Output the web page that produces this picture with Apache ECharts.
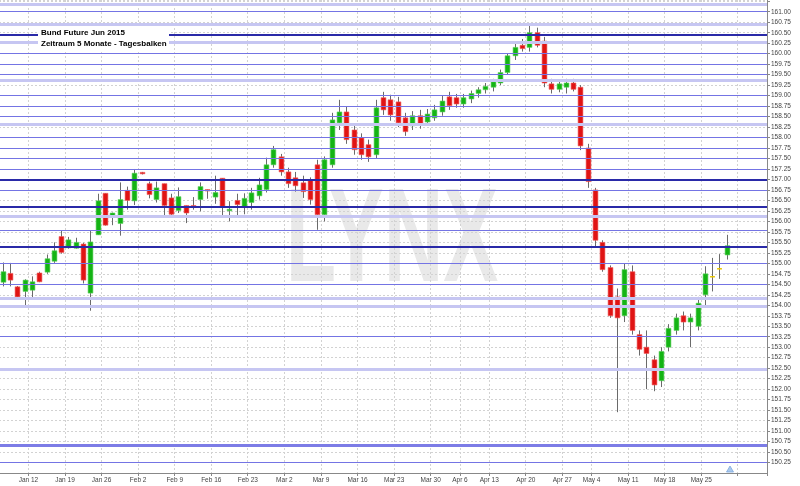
<!DOCTYPE html>
<html><head><meta charset="utf-8">
<script src="https://cdn.jsdelivr.net/npm/echarts@6/dist/echarts.min.js"></script>
<style>html,body{margin:0;padding:0;background:#fff}#c{width:800px;height:486px}</style>
</head><body><div id="c"></div>
<script>
const dates = ['Jan 6','Jan 7','Jan 8','Jan 9','Jan 12','Jan 13','Jan 14','Jan 15','Jan 16','Jan 19','Jan 20','Jan 21','Jan 22','Jan 23','Jan 26','Jan 27','Jan 28','Jan 29','Jan 30',
'Feb 2','Feb 3','Feb 4','Feb 5','Feb 6','Feb 9','Feb 10','Feb 11','Feb 12','Feb 13','Feb 16','Feb 17','Feb 18','Feb 19','Feb 20','Feb 23','Feb 24','Feb 25','Feb 26','Feb 27',
'Mar 2','Mar 3','Mar 4','Mar 5','Mar 6','Mar 9','Mar 10','Mar 11','Mar 12','Mar 13','Mar 16','Mar 17','Mar 18','Mar 19','Mar 20','Mar 23','Mar 24','Mar 25','Mar 26','Mar 27','Mar 30','Mar 31',
'Apr 1','Apr 2','Apr 7','Apr 8','Apr 9','Apr 10','Apr 13','Apr 14','Apr 15','Apr 16','Apr 17','Apr 20','Apr 21','Apr 22','Apr 23','Apr 24','Apr 27','Apr 28','Apr 29','Apr 30',
'May 4','May 5','May 6','May 7','May 8','May 11','May 12','May 13','May 14','May 15','May 18','May 19','May 20','May 21','May 22','May 25','May 26','May 27','May 28'];
const futureDates = ['May 29','Jun 1','Jun 2','Jun 3','Jun 4'];

const open = [154.55,154.76,154.44,154.33,154.36,154.77,154.79,155.05,155.64,155.37,155.36,155.46,154.29,155.68,156.67,156.10,155.95,156.74,156.49,
157.17,156.90,156.52,156.90,156.56,156.26,156.38,156.38,156.52,156.76,156.58,157.03,156.27,156.50,156.34,156.45,156.61,156.76,157.35,157.54,
157.18,157.04,156.92,156.99,157.35,156.16,157.35,158.35,158.61,158.18,157.99,157.83,157.59,158.95,158.90,158.85,158.47,158.28,158.52,158.37,158.47,158.61,
158.97,158.95,158.80,158.92,159.05,159.14,159.20,159.30,159.55,159.95,160.20,160.15,160.50,160.30,159.28,159.15,159.20,159.30,159.20,157.75,
156.75,155.50,154.90,154.20,153.75,154.80,153.30,153.00,152.70,152.20,153.00,153.40,153.75,153.60,153.50,154.25,154.68,154.87,155.20];
const high = [155.02,155.01,154.46,154.62,154.69,154.80,155.21,155.50,155.78,155.63,155.61,155.49,155.78,156.66,156.67,156.21,156.93,156.83,157.25,
157.18,156.95,156.95,156.90,156.66,156.81,156.38,156.58,156.93,156.76,157.09,157.03,156.48,156.66,156.67,156.80,157.04,157.52,157.80,157.61,
157.28,157.18,157.09,157.05,157.47,157.55,158.59,158.90,158.73,158.28,158.10,157.95,158.90,159.09,159.02,158.97,158.59,158.63,158.66,158.68,158.78,158.99,
159.09,159.04,159.04,159.12,159.20,159.30,159.40,159.62,160.00,160.25,160.35,160.72,160.62,160.40,159.40,159.35,159.40,159.40,159.25,157.85,
156.80,155.55,154.95,154.40,155.00,154.95,153.40,153.40,152.80,153.00,153.55,153.80,153.85,153.80,154.20,154.93,155.13,155.22,155.68];
const low = [154.45,154.45,154.18,153.98,154.16,154.55,154.75,155.01,155.23,155.35,155.35,154.52,153.87,155.68,155.90,155.91,155.66,156.28,156.39,
157.12,156.55,156.45,156.12,156.15,156.20,155.96,156.28,156.24,156.54,156.42,156.10,156.00,156.12,156.17,156.28,156.52,156.69,157.28,157.09,
156.80,156.71,156.56,156.40,155.80,156.00,157.28,158.18,157.85,157.59,157.47,157.42,157.50,158.54,158.40,158.25,158.04,158.18,158.21,158.28,158.40,158.52,
158.66,158.71,158.71,158.82,158.95,159.05,159.10,159.25,159.50,159.85,160.05,160.05,160.15,159.20,159.05,159.08,159.05,159.10,157.70,156.80,
155.40,154.80,153.70,151.45,153.60,153.30,152.80,152.00,151.95,152.05,152.90,153.30,153.40,153.00,153.40,153.99,154.33,154.63,155.09];
const close = [154.80,154.60,154.20,154.60,154.56,154.56,155.11,155.30,155.26,155.56,155.50,154.60,155.51,156.49,155.91,156.20,156.52,156.50,157.15,
157.14,156.64,156.80,156.38,156.17,156.59,156.20,156.35,156.83,156.74,156.69,156.36,156.29,156.40,156.55,156.68,156.87,157.35,157.71,157.18,
156.90,156.85,156.71,156.52,156.16,157.47,158.42,158.61,157.95,157.71,157.59,157.54,158.71,158.66,158.54,158.35,158.14,158.52,158.33,158.56,158.66,158.87,
158.76,158.80,158.95,159.05,159.14,159.22,159.33,159.55,159.95,160.15,160.12,160.50,160.20,159.30,159.15,159.28,159.30,159.15,157.80,156.95,
155.55,154.85,153.75,153.70,154.85,153.40,152.95,152.85,152.10,152.90,153.45,153.70,153.60,153.70,154.05,154.75,154.68,154.87,155.42];

const tickDates  = ['Jan 12','Jan 19','Jan 26','Feb 2','Feb 9','Feb 16','Feb 23','Mar 2','Mar 9','Mar 16','Mar 23','Mar 30','Apr 7','Apr 13','Apr 20','Apr 27','May 4','May 11','May 18','May 25','Jun 1'];
const tickLabels = ['Jan 12','Jan 19','Jan 26','Feb 2','Feb 9','Feb 16','Feb 23','Mar 2','Mar 9','Mar 16','Mar 23','Mar 30','Apr 6','Apr 13','Apr 20','Apr 27','May 4','May 11','May 18','May 25',''];

const levels     = [161.18,161.00,160.71,160.46,160.28,160.00,159.75,159.50,159.37,159.00,158.75,158.50,158.31,158.00,157.75,157.50,157.25,157.00,156.75,156.34,156.12,155.80,155.39,155.00,154.50,154.17,153.98,153.25,152.47,150.66,150.25];
const levelKinds = ['l','m','l','d','l','m','m','m','l','m','m','m','l','m','m','m','m','d','m','d','l','m','d','m','m','l','l','m','l','t','m'];

const titleLines = ['Bund Future Jun 2015','Zeitraum 5 Monate - Tagesbalken'];
const watermark = 'LYNX';
const yName = 'Price';

const levelStyle = {
  d: {color:'#2a2aa8', width:2},
  m: {color:'#7474e4', width:1},
  l: {color:'#c6c6f2', width:3},
  t: {color:'#7c7ce6', width:3}
};

const cats = dates.concat(futureDates);
const tickMap = {};
tickDates.forEach((d,i)=>{ tickMap[d] = tickLabels[i]; });
const isTick = (idx, val) => Object.prototype.hasOwnProperty.call(tickMap, val);

const ohlc = dates.map((d,i)=>[i, open[i], close[i], low[i], high[i]]);

const chart = echarts.init(document.getElementById('c'), null, {renderer:'canvas'});
chart.setOption({
  animation:false,
  backgroundColor:'#fff',
  grid:{left:-1, right:33, top:0, bottom:13, containLabel:false, outerBoundsMode:'none'},
  xAxis:{
    type:'category', data:cats, boundaryGap:true,
    axisLine:{show:true, lineStyle:{color:'#888', width:1}},
    axisTick:{show:true, interval:isTick, length:3, lineStyle:{color:'#888'}},
    axisLabel:{interval:isTick, formatter:(v)=>tickMap[v]||'', fontSize:6.5, color:'#444', margin:4,
      fontFamily:'Liberation Sans', padding:[0,7,0,0]},
    splitLine:{show:true, interval:isTick, lineStyle:{color:'#d2d2d2', type:[2,2], width:1}}
  },
  yAxis:{
    type:'value', position:'right', min:150, max:161.28, interval:0.25,
    name:yName, nameLocation:'middle', nameRotate:-90, nameGap:29,
    nameTextStyle:{fontSize:7.5, color:'#444', fontFamily:'Liberation Sans'},
    axisLine:{show:true, lineStyle:{color:'#888'}},
    axisTick:{show:true, length:3, lineStyle:{color:'#888'}},
    axisLabel:{fontSize:6.5, color:'#444', margin:4, fontFamily:'Liberation Sans',
      showMinLabel:false, showMaxLabel:false,
      formatter:(v)=> (v>161.01 || v<150.1) ? '' : v.toFixed(2)},
    splitLine:{show:true, lineStyle:{color:'#d2d2d2', type:[2,2], width:1}}
  },
  graphic:[
    {type:'text', z:-1, x:392, y:244, scaleX:0.62, scaleY:1,
     style:{text:watermark, font:'bold 133px "Liberation Sans"', fill:'#e9e9e9', textAlign:'center', textVerticalAlign:'middle'}},
    {type:'rect', z:100, shape:{x:38, y:27, width:131, height:24}, style:{fill:'#fff'}},
    {type:'text', z:101, x:41, y:33, style:{text:titleLines[0], font:'bold 8px "Liberation Sans"', fill:'#000', textVerticalAlign:'middle'}},
    {type:'text', z:101, x:41, y:44, style:{text:titleLines[1], font:'bold 8px "Liberation Sans"', fill:'#000', textVerticalAlign:'middle'}},
    {type:'polygon', z:50, shape:{points:[[730,466],[726.5,472],[733.5,472]]}, style:{fill:'#a9c9ee', stroke:'#7fa8dc', lineWidth:0.8}}
  ],
  series:[
    {type:'line', data:[], z:2, silent:true,
     markLine:{silent:true, symbol:['none','none'], label:{show:false}, animation:false,
       data: levels.map((v,i)=>({yAxis:v, lineStyle:Object.assign({type:'solid'}, levelStyle[levelKinds[i]])}))}},
    {type:'custom', z:3, data:ohlc, encode:{x:0, y:[1,2,3,4]},
     renderItem:function(params, api){
       const i = api.value(0), o = api.value(1), c = api.value(2), l = api.value(3), h = api.value(4);
       const pH = api.coord([i,h]), pL = api.coord([i,l]);
       const pO = api.coord([i,o]), pC = api.coord([i,c]);
       const bw = api.size([1,0])[0]*0.66;
       const x = Math.round(pH[0]);
       const children = [{type:'line', shape:{x1:x+0.5, y1:pH[1], x2:x+0.5, y2:pL[1]}, style:{stroke:'#6a6a6a', lineWidth:1}}];
       if (o === c) {
         children.push({type:'line', shape:{x1:x+0.5-bw/2, y1:pO[1], x2:x+0.5+bw/2, y2:pO[1]}, style:{stroke:'#e8c400', lineWidth:1.5}});
       } else {
         const up = c > o;
         const top = Math.min(pO[1], pC[1]);
         const hgt = Math.max(1.5, Math.abs(pO[1]-pC[1]));
         children.push({type:'rect', shape:{x:x+0.5-bw/2, y:top, width:bw, height:hgt},
           style:{fill: up ? '#14b414' : '#e01414', stroke: up ? '#5fd05f' : '#f06060', lineWidth:0.6}});
       }
       return {type:'group', children};
     }}
  ]
});
</script></body></html>
